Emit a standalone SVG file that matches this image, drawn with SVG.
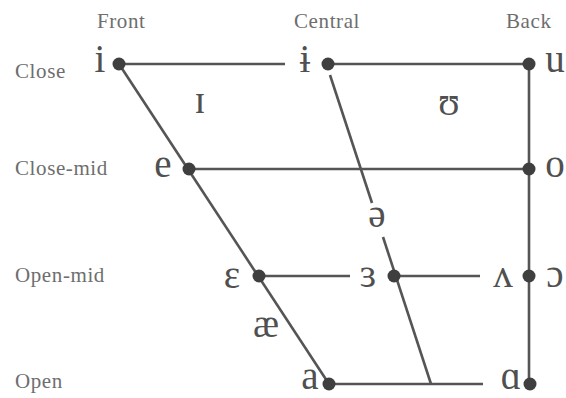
<svg xmlns="http://www.w3.org/2000/svg" width="566" height="398" viewBox="0 0 566 398">
<style>
.lbl{font-family:"Liberation Serif","DejaVu Serif",serif;font-size:21px;fill:#6e6e6e;letter-spacing:0.6px}
.ipa{font-family:"Liberation Serif","DejaVu Serif",serif;font-size:39px;fill:#505050;text-anchor:middle}
.ln{stroke:#555;stroke-width:2.6;fill:none}
.dot{fill:#3f3f3f}
</style>
<rect width="566" height="398" fill="#fff"/>
<g id="axis-labels">
<text class="lbl" x="97" y="28">Front</text>
<text class="lbl" x="294" y="28">Central</text>
<text class="lbl" x="506" y="28">Back</text>
<text class="lbl" x="15" y="78">Close</text>
<text class="lbl" x="15" y="175">Close-mid</text>
<text class="lbl" x="15" y="282">Open-mid</text>
<text class="lbl" x="15" y="388">Open</text>
</g>
<g id="connectors">
<line class="ln" x1="119" y1="64" x2="285" y2="64"/>
<line class="ln" x1="328" y1="64" x2="529" y2="64"/>
<line class="ln" x1="189" y1="169" x2="529" y2="169"/>
<line class="ln" x1="259" y1="276" x2="350" y2="276"/>
<line class="ln" x1="394" y1="276" x2="480" y2="276"/>
<line class="ln" x1="329" y1="384" x2="483" y2="384"/>
<line class="ln" x1="529" y1="64" x2="529" y2="384"/>
<line class="ln" x1="119" y1="64" x2="329" y2="384"/>
<line class="ln" x1="330" y1="75" x2="372" y2="203"/>
<line class="ln" x1="383" y1="237" x2="431" y2="384"/>
</g>
<g id="node-i"><text class="ipa" x="100" y="72">i</text><circle class="dot" cx="119" cy="64" r="6.5"/></g>
<g id="node-barred-i"><text class="ipa" x="305" y="72">ɨ</text><circle class="dot" cx="328" cy="64" r="6.5"/></g>
<g id="node-u"><circle class="dot" cx="529" cy="64" r="6.5"/><text class="ipa" x="555" y="72">u</text></g>
<g id="node-small-i"><text class="ipa" x="200" y="113">ɪ</text></g>
<g id="node-upsilon"><text class="ipa" x="449" y="115">ʊ</text></g>
<g id="node-e"><text class="ipa" x="163" y="177">e</text><circle class="dot" cx="189" cy="169" r="6.5"/></g>
<g id="node-o"><circle class="dot" cx="529" cy="169" r="6.5"/><text class="ipa" x="555" y="177">o</text></g>
<g id="node-schwa"><text class="ipa" x="377" y="227">ə</text></g>
<g id="node-open-e"><text class="ipa" x="232" y="288">ɛ</text><circle class="dot" cx="259" cy="276" r="6.5"/></g>
<g id="node-rev-open-e"><text class="ipa" x="368" y="287">ɜ</text><circle class="dot" cx="394" cy="276" r="6.5"/></g>
<g id="node-wedge"><text class="ipa" x="503" y="287">ʌ</text></g>
<g id="node-open-o"><circle class="dot" cx="529" cy="276" r="6.5"/><text class="ipa" x="555" y="287">ɔ</text></g>
<g id="node-ae"><text class="ipa" x="266" y="337">æ</text></g>
<g id="node-a"><text class="ipa" x="310" y="389">a</text><circle class="dot" cx="329" cy="384" r="6.5"/></g>
<g id="node-script-a"><text class="ipa" x="511" y="389">ɑ</text><circle class="dot" cx="530" cy="384" r="6.5"/></g>
</svg>
